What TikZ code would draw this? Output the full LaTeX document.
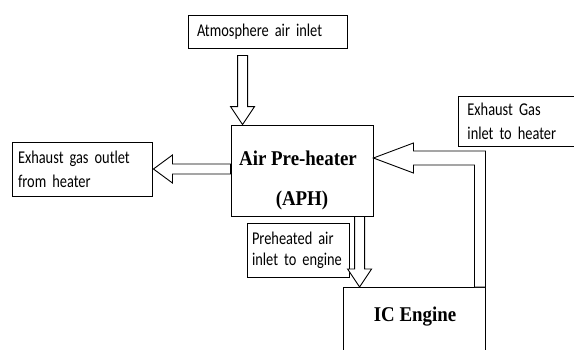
\documentclass[tikz,border=0pt]{standalone}
\usepackage{fontspec}
\setmainfont{Liberation Serif}
\newfontfamily\lblfont[FakeStretch=0.8,WordSpace=0.75]{Carlito}
\newfontfamily\ttlfont[FakeStretch=0.9]{Liberation Serif}
\usetikzlibrary{
  positioning,
  calc,
}
\hyphenpenalty=10000
\tikzset{
  blockbox/.style={draw, line width=0.9pt, inner sep=0pt},
  lblbox/.style={draw, line width=0.9pt, inner xsep=7pt, inner ysep=0pt, align=left,
    font=\lblfont\fontsize{18}{24}\selectfont},
  ttl/.style={inner sep=0pt, font=\ttlfont\bfseries\fontsize{21}{24}\selectfont},
  fat/.style={draw, line width=0.9pt, fill=white, line join=miter},
}
\newcommand\fatdown[2]{\draw[fat] let \p1=(#1), \p2=(#2) in
  (\x2-5pt,\y1) -- (\x2+5pt,\y1) -- (\x2+5pt,\y2+18pt) -- (\x2+12pt,\y2+18pt)
  -- (\x2,\y2) -- (\x2-12pt,\y2+18pt) -- (\x2-5pt,\y2+18pt) -- cycle;}

\begin{document}
\begin{tikzpicture}[x=1pt,y=-1pt]
\useasboundingbox (0,0) rectangle (574,349);
\clip (0,0) rectangle (574,349);
\node[lblbox, inner xsep=9pt, text width=141pt, minimum height=33pt] (atm) at (267.5,31.5) {Atmosphere air inlet};
\node[blockbox, minimum width=142pt, minimum height=91pt] (aph) at (302,170.5) {};
\node[ttl] (aphname) at (298,158) {Air Pre-heater};
\node[ttl] (aphabbr) at (302,200) {(APH)};
\node[lblbox, inner xsep=6pt, text width=128pt, minimum height=54pt] (outlet) at (82,169) {Exhaust gas outlet\\from heater};
\node[lblbox, anchor=west, inner xsep=9pt, text width=130pt, minimum height=50pt] (inlet) at (458,121) {Exhaust Gas\\inlet to heater};
\node[lblbox, inner xsep=5pt, text width=92pt, minimum height=54pt,
  font=\lblfont\fontsize{18}{21}\selectfont] (pre) at (298,250) {Preheated air\\inlet to engine};
\node[blockbox, minimum width=142pt, minimum height=80pt, anchor=north] (ice) at (414,287) {};
\node[ttl] (icename) at (415,317) {IC Engine};

\fatdown{$(atm.south west)+(55,7)$}{$(aph.north west)+(12,0)$}
\fatdown{aph.south}{$(ice.north west)+(17,0)$}
\draw[fat] let \p1=(outlet.east), \p2=(aph.west) in
  (\x2,\y1+5pt) -- (\x1+20pt,\y1+5pt) -- (\x1+20pt,\y1+14pt) -- (\x1+1pt,\y1)
  -- (\x1+20pt,\y1-14pt) -- (\x1+20pt,\y1-5pt) -- (\x2,\y1-5pt) -- cycle;
\draw[fat] let \p1=(aph.east |- aphname), \p2=(ice.north east) in
  (\x1,\y1) -- (\x1+40pt,\y1+15pt) -- (\x1+40pt,\y1+7pt) -- (\x2,\y1+7pt)
  -- (\x2,\y2) -- (\x2-11pt,\y2) -- (\x2-11pt,\y1-7pt) -- (\x1+40pt,\y1-7pt)
  -- (\x1+40pt,\y1-15pt) -- cycle;
\end{tikzpicture}
\end{document}
